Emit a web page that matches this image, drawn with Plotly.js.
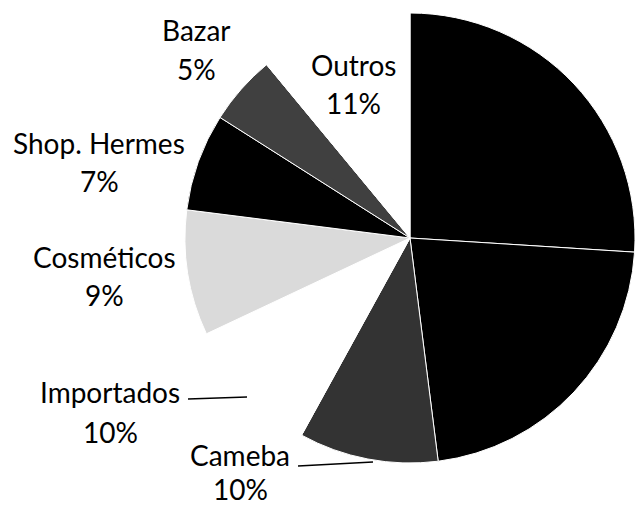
<!DOCTYPE html>
<html>
<head>
<meta charset="utf-8">
<script src="https://cdn.plot.ly/plotly-3.0.1.min.js"></script>
<style>html,body{margin:0;padding:0;background:#fff;}#chart{width:635px;height:506px;}</style>
</head>
<body>
<div id="chart"></div>
<script>
// Data
var categories = ["Categoria A", "Categoria B", "Cameba", "Importados", "Cosméticos", "Shop. Hermes", "Bazar", "Outros"];
var shares = [26, 22, 10, 10, 9, 7, 5, 11];
var percentLabels = ["26%", "22%", "10%", "10%", "9%", "7%", "5%", "11%"];
var sliceColors = ["#000000", "#000000", "#333333", "#ffffff", "#dadada", "#000000", "#404040", "#ffffff"];

var W = 635, H = 506;
function px(x){ return x / W; }
function py(y){ return 1 - y / H; }

// label placement (name line, percent line) for visible categories
var labelSpots = {
  "Bazar":        {x:196, y1:30,  y2:69},
  "Outros":       {x:353, y1:65,  y2:103},
  "Shop. Hermes": {x:99,  y1:143, y2:181},
  "Cosméticos":   {x:104, y1:257, y2:295},
  "Importados":   {x:110, y1:392, y2:432},
  "Cameba":       {x:240, y1:455, y2:489}
};

var fontFam = "Lato, 'Open Sans', sans-serif";
var annotations = [];
categories.forEach(function(c, i){
  var s = labelSpots[c];
  if (!s) return;
  annotations.push({x:px(s.x), y:py(s.y1), xref:'paper', yref:'paper', text:c, showarrow:false,
    xanchor:'center', yanchor:'middle', font:{family:fontFam, size:28, color:'#000'}});
  annotations.push({x:px(s.x), y:py(s.y2), xref:'paper', yref:'paper', text:percentLabels[i], showarrow:false,
    xanchor:'center', yanchor:'middle', font:{family:fontFam, size:28, color:'#000'}});
});

var shapes = [
  {type:'line', xref:'paper', yref:'paper', x0:px(188), y0:py(399), x1:px(247), y1:py(397), line:{color:'#000', width:1.5}},
  {type:'line', xref:'paper', yref:'paper', x0:px(298), y0:py(466), x1:px(373), y1:py(462), line:{color:'#000', width:1.5}}
];

var trace = {
  type:'pie',
  labels: categories,
  values: shares,
  sort:false,
  direction:'clockwise',
  rotation:0,
  textinfo:'none',
  hoverinfo:'label+percent',
  marker:{colors: sliceColors, line:{color:'#ffffff', width:1}},
  domain:{x:[px(410-225), px(410+225)], y:[py(238+225), py(238-225)]},
  showlegend:false
};

var layout = {
  width: W, height: H,
  margin:{l:0, r:0, t:0, b:0},
  paper_bgcolor:'#fff',
  showlegend:false,
  annotations: annotations,
  shapes: shapes
};

Plotly.newPlot('chart', [trace], layout, {staticPlot:true, displayModeBar:false});
</script>
</body>
</html>
